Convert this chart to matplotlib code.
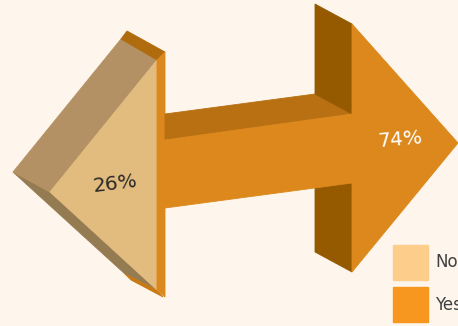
import matplotlib
matplotlib.use("Agg")
import matplotlib.pyplot as plt
from matplotlib.patches import Polygon, Patch

# ── data ──────────────────────────────────────
categories = ["No", "Yes"]
values     = [26, 74]
legend_colors = ["#FDCD8B", "#F8971F"]

BG = "#FEF6EC"

# ── arrow geometry (pixel space, y down) ─────
left_arrow = [
    # (polygon, colour)
    ([(13, 172), (50, 192), (157, 290), (125, 274)], "#957B52"),
    ([(125, 274), (157, 290), (163, 297), (131, 280)], "#C77A14"),
    ([(121, 39), (157, 60), (50, 192), (13, 172)], "#B39164"),
    ([(127, 31), (165, 52), (157, 60), (121, 39)], "#B06B0E"),
    ([(157, 60), (50, 192), (157, 290)], "#E2BB7E"),
    ([(157, 60), (165, 52), (165, 297), (157, 290)], "#DC881C"),
]
right_arrow = [
    ([(165, 114), (315, 94), (352, 114), (165, 140)], "#B87012"),
    ([(315, 4), (352, 24), (352, 114), (315, 94)], "#955A00"),
    ([(315, 183), (352, 183), (352, 272), (315, 252)], "#955A00"),
    ([(165, 140), (352, 114), (352, 183), (165, 208)], "#DC881C"),
    ([(352, 24), (458, 143), (352, 272)], "#DC881C"),
]

fig = plt.figure(figsize=(4.58, 3.26), dpi=100)
fig.patch.set_facecolor(BG)
ax = fig.add_axes([0, 0, 1, 1])
ax.set_facecolor(BG)
ax.set_xlim(0, 458)
ax.set_ylim(326, 0)
ax.axis("off")

for pts, col in left_arrow + right_arrow:
    ax.add_patch(Polygon(pts, closed=True, facecolor=col,
                         edgecolor=col, linewidth=0.6))

# percent labels
ax.text(115, 184, f"{values[0]}%", ha="center", va="center",
        fontsize=14.5, color="#2A2A2A", rotation=7, fontweight="medium")
ax.text(400, 140, f"{values[1]}%", ha="center", va="center",
        fontsize=14.5, color="white", rotation=5, fontweight="medium")

# legend (the right edge clips the labels, as in the original)
handles = [Patch(facecolor=c, edgecolor=c) for c in legend_colors]
ax.legend(handles, categories, loc="upper left",
          bbox_to_anchor=(393 / 458, 1 - 245 / 326),
          frameon=False, fontsize=12, labelcolor="#404040",
          handlelength=2.1, handleheight=2.85, labelspacing=0.45,
          handletextpad=0.45, borderpad=0, borderaxespad=0)

fig.savefig("out.png", dpi=100, facecolor=BG)
